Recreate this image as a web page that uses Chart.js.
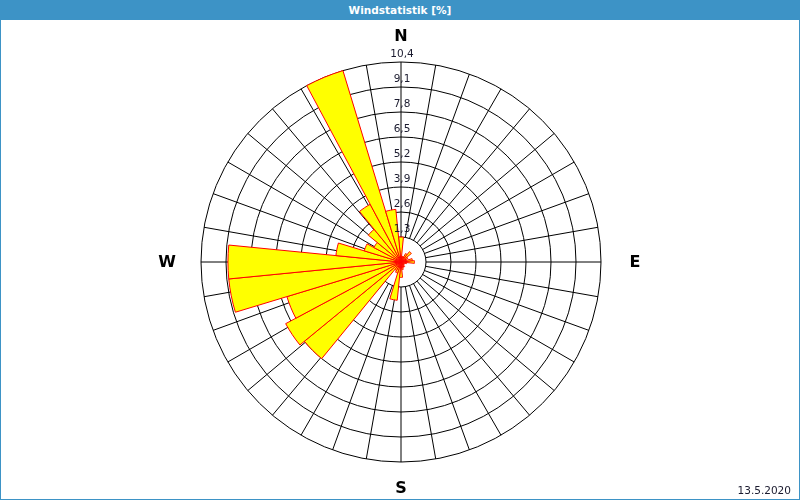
<!DOCTYPE html>
<html>
<head>
<meta charset="utf-8">
<script src="https://cdn.jsdelivr.net/npm/chart.js@4"></script>
<style>
  html, body { margin: 0; padding: 0; background: #fff; }
  #wrap { position: relative; width: 800px; height: 500px; box-sizing: border-box; border: 1px solid #3d93c6; overflow: hidden; }
  #head { position: absolute; left: 0; top: 0; width: 100%; height: 19px; background: #3d93c6; color: #fff;
          font: bold 10.5px "DejaVu Sans", sans-serif; text-align: center; line-height: 19px; z-index: 2; }
  #date { position: absolute; right: 8px; bottom: 3px; font: 10.5px "DejaVu Sans", sans-serif; color: #1a1a2e; z-index: 2; }
  canvas { position: absolute; left: -1px; top: -1px; }
</style>
</head>
<body>
<div id="wrap">
  <div id="head">Windstatistik [%]</div>
  <canvas id="myChart" width="800" height="500"></canvas>
  <div id="date">13.5.2020</div>
</div>
<script>
// 32 Richtungen, im Uhrzeigersinn ab Norden (11,25° je Sektor)
const directions = ['N','NzO','NNO','NOzN','NO','NOzO','ONO','OzN','O','OzS','OSO','SOzO','SO','SOzS','SSO','SzO',
                    'S','SzW','SSW','SWzS','SW','SWzW','WSW','WzS','W','WzN','WNW','NWzW','NW','NWzN','NNW','NzW'];
const windPercent = [1.3, 0.3, 0.3, 0.5, 0.7, 0.4, 0.3, 0.6, 0.7, 0.3, 0.2, 0.2, 0.2, 0.3, 0.3, 0.4,
                     0.8, 2.0, 0.6, 0.5, 6.5, 6.8, 6.2, 9.0, 9.0, 3.4, 2.0, 1.6, 2.2, 3.4, 10.4, 2.75];
const ringStep = 1.3;
const ringMax = 10.4;
const compass = [['N', 0], ['E', 90], ['S', 180], ['W', 270]];

// Speichen alle 10°, Beschriftungen der Ringe und Himmelsrichtungen
const roseDecor = {
  id: 'roseDecor',
  beforeDatasetsDraw(chart) {
    const r = chart.scales.r;
    const ctx = chart.ctx;
    const inner = r.getDistanceFromCenterForValue(ringStep);
    ctx.save();
    ctx.strokeStyle = '#000';
    ctx.lineWidth = 1;
    for (let a = 0; a < 360; a += 10) {
      const rad = a * Math.PI / 180;
      ctx.beginPath();
      ctx.moveTo(r.xCenter + inner * Math.sin(rad), r.yCenter - inner * Math.cos(rad));
      ctx.lineTo(r.xCenter + r.drawingArea * Math.sin(rad), r.yCenter - r.drawingArea * Math.cos(rad));
      ctx.stroke();
    }
    ctx.restore();
  },
  afterDraw(chart) {
    const r = chart.scales.r;
    const ctx = chart.ctx;
    ctx.save();
    ctx.textAlign = 'center';
    ctx.textBaseline = 'middle';
    ctx.fillStyle = '#1a1a2e';
    ctx.font = '10.5px "DejaVu Sans"';
    r.ticks.forEach(t => {
      if (t.value <= 0) return;
      const d = r.getDistanceFromCenterForValue(t.value);
      ctx.fillText(t.value.toFixed(1).replace('.', ','), r.xCenter + 1, r.yCenter - d - 8);
    });
    ctx.fillStyle = '#000';
    ctx.font = 'bold 16px "DejaVu Sans"';
    compass.forEach(([lbl, a]) => {
      const off = (a % 180 === 0) ? 26 : 34;
      const rad = a * Math.PI / 180;
      const d = r.drawingArea + off;
      ctx.fillText(lbl, r.xCenter + d * Math.sin(rad), r.yCenter - d * Math.cos(rad) + 1);
    });
    ctx.restore();
  }
};

const ctx = document.getElementById('myChart').getContext('2d');
const myChart = new Chart(ctx, {
  type: 'polarArea',
  data: {
    labels: directions,
    datasets: [{
      data: windPercent,
      backgroundColor: '#ffff00',
      borderColor: '#ff0000',
      borderWidth: 1
    }]
  },
  options: {
    responsive: false,
    animation: false,
    layout: { padding: { left: 201, right: 199, top: 62, bottom: 38 } },
    plugins: { legend: { display: false }, tooltip: { enabled: false } },
    scales: {
      r: {
        min: 0,
        max: ringMax,
        startAngle: -5.625,
        ticks: { display: false, stepSize: ringStep },
        grid: { color: '#000', lineWidth: 1 },
        angleLines: { display: false },
        pointLabels: { display: false }
      }
    }
  },
  plugins: [roseDecor]
});
</script>
</body>
</html>
